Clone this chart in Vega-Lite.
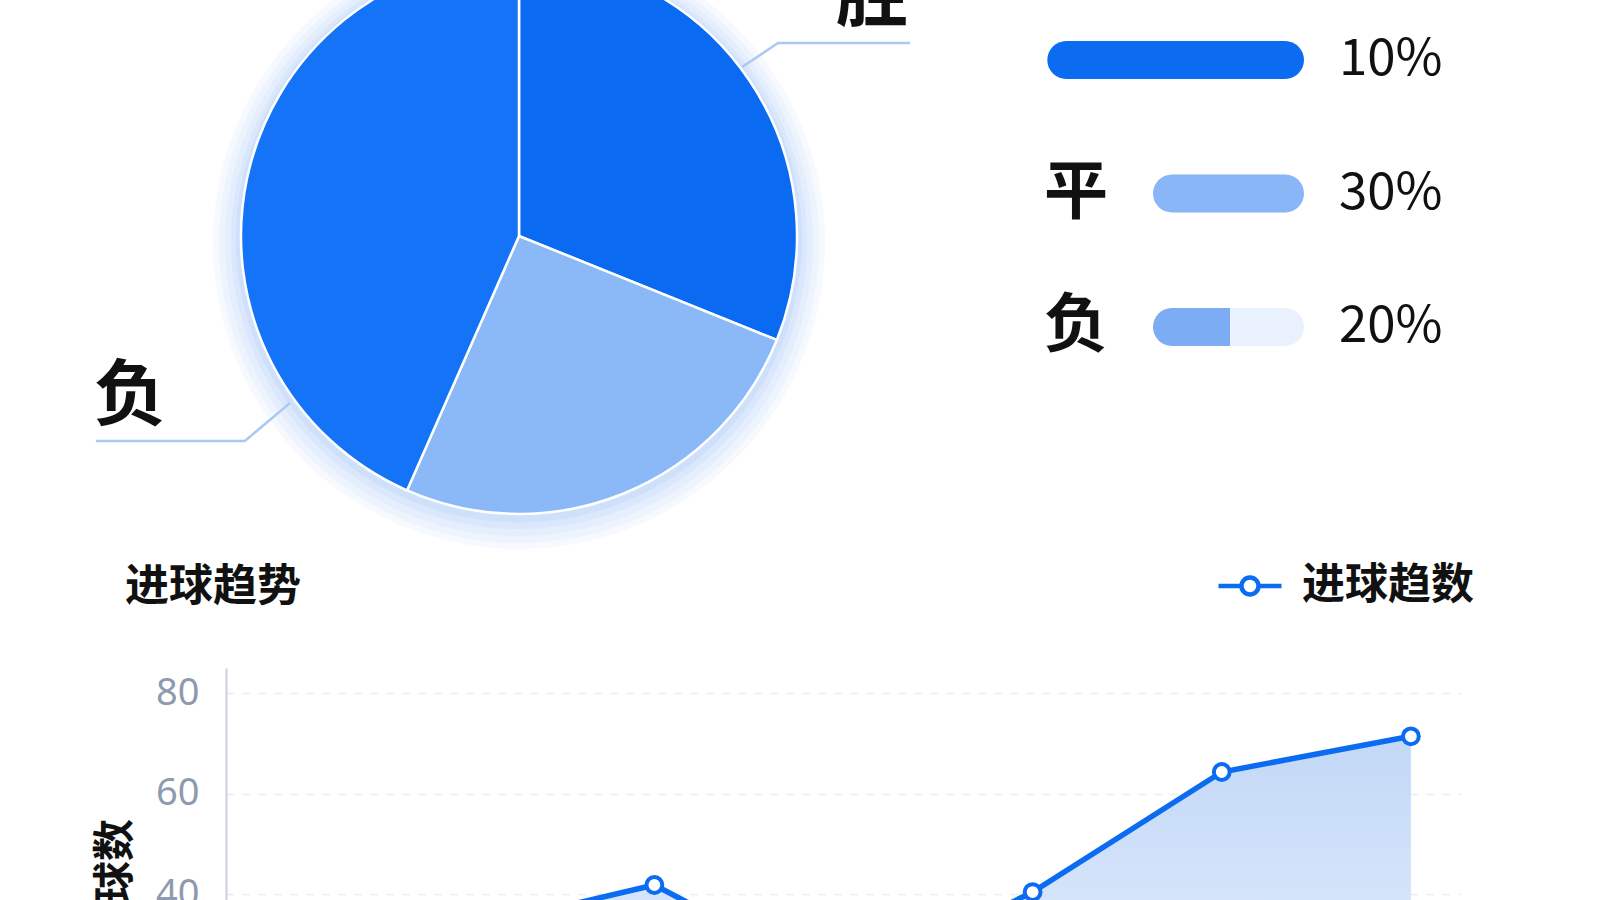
{
  "$schema": "https://vega.github.io/schema/vega-lite/v6.json",
  "background": "white",
  "padding": {"left": 0, "top": -64, "right": -87, "bottom": -194},
  "config": {
    "view": {"stroke": null},
    "font": "Noto Sans CJK SC"
  },
  "datasets": {
    "pie": [
      {"result": "胜", "share": 31.1, "idx": 1},
      {"result": "平", "share": 25.5, "idx": 2},
      {"result": "负", "share": 43.4, "idx": 3}
    ],
    "labels": [
      {"text": "胜", "x": 1.27, "y": 0.856},
      {"text": "负", "x": -1.399, "y": -0.58}
    ],
    "leaders": [
      {"label": "胜", "seq": 1, "x": 0.802, "y": 0.608},
      {"label": "胜", "seq": 2, "x": 0.932, "y": 0.694},
      {"label": "胜", "seq": 3, "x": 1.406, "y": 0.694},
      {"label": "负", "seq": 1, "x": -0.824, "y": -0.601},
      {"label": "负", "seq": 2, "x": -0.986, "y": -0.737},
      {"label": "负", "seq": 3, "x": -1.522, "y": -0.737}
    ],
    "bars": [
      {"result": "胜", "start": -70, "end": 100, "pct": "10%"},
      {"result": "平", "start": 0, "end": 100, "pct": "30%"},
      {"result": "负", "start": 0, "end": 51, "pct": "20%"}
    ],
    "goals": [
      {"round": "第1轮", "goals": 28},
      {"round": "第2轮", "goals": 33},
      {"round": "第3轮", "goals": 41.8},
      {"round": "第4轮", "goals": 22},
      {"round": "第5轮", "goals": 40.4},
      {"round": "第6轮", "goals": 64.3},
      {"round": "第7轮", "goals": 71.4}
    ]
  },
  "bounds": "flush",
  "center": true,
  "spacing": 132,
  "resolve": {"scale": {"color": "independent"}},
  "vconcat": [
    {
      "width": 1687,
      "height": 600,
      "resolve": {"scale": {"x": "independent", "y": "independent", "color": "independent"}},
      "layer": [
        {
          "data": {"name": "pie"},
          "mark": {"type": "arc", "outerRadius": 306, "color": "#f6f9fe"},
          "encoding": {
            "x": {"datum": 0, "type": "quantitative", "scale": {"domain": [-1.8669, 4.2014], "nice": false, "zero": false}, "axis": null},
            "y": {"datum": -0.025, "type": "quantitative", "scale": {"domain": [-1.0791, 1.0791], "nice": false, "zero": false}, "axis": null},
            "theta": {"field": "share", "type": "quantitative", "stack": true}
          }
        },
        {
          "data": {"name": "pie"},
          "mark": {"type": "arc", "outerRadius": 300, "color": "#eef4fe"},
          "encoding": {
            "x": {"datum": 0, "type": "quantitative", "scale": {"domain": [-1.8669, 4.2014], "nice": false, "zero": false}, "axis": null},
            "y": {"datum": -0.025, "type": "quantitative", "scale": {"domain": [-1.0791, 1.0791], "nice": false, "zero": false}, "axis": null},
            "theta": {"field": "share", "type": "quantitative", "stack": true}
          }
        },
        {
          "data": {"name": "pie"},
          "mark": {"type": "arc", "outerRadius": 294, "color": "#e5eefd"},
          "encoding": {
            "x": {"datum": 0, "type": "quantitative", "scale": {"domain": [-1.8669, 4.2014], "nice": false, "zero": false}, "axis": null},
            "y": {"datum": -0.022, "type": "quantitative", "scale": {"domain": [-1.0791, 1.0791], "nice": false, "zero": false}, "axis": null},
            "theta": {"field": "share", "type": "quantitative", "stack": true}
          }
        },
        {
          "data": {"name": "pie"},
          "mark": {"type": "arc", "outerRadius": 288, "color": "#dae7fc"},
          "encoding": {
            "x": {"datum": 0, "type": "quantitative", "scale": {"domain": [-1.8669, 4.2014], "nice": false, "zero": false}, "axis": null},
            "y": {"datum": -0.018, "type": "quantitative", "scale": {"domain": [-1.0791, 1.0791], "nice": false, "zero": false}, "axis": null},
            "theta": {"field": "share", "type": "quantitative", "stack": true}
          }
        },
        {
          "data": {"name": "pie"},
          "mark": {"type": "arc", "outerRadius": 283, "color": "#cfe0fb"},
          "encoding": {
            "x": {"datum": 0, "type": "quantitative", "scale": {"domain": [-1.8669, 4.2014], "nice": false, "zero": false}, "axis": null},
            "y": {"datum": -0.012, "type": "quantitative", "scale": {"domain": [-1.0791, 1.0791], "nice": false, "zero": false}, "axis": null},
            "theta": {"field": "share", "type": "quantitative", "stack": true}
          }
        },
        {
          "data": {"name": "pie"},
          "mark": {"type": "arc", "outerRadius": 278, "stroke": "white", "strokeWidth": 2.5},
          "encoding": {
            "x": {"datum": 0, "type": "quantitative", "scale": {"domain": [-1.8669, 4.2014], "nice": false, "zero": false}, "axis": null},
            "y": {"datum": 0, "type": "quantitative", "scale": {"domain": [-1.0791, 1.0791], "nice": false, "zero": false}, "axis": null},
            "theta": {"field": "share", "type": "quantitative", "stack": true},
            "order": {"field": "idx"},
            "color": {
              "field": "result", "type": "nominal",
              "scale": {"domain": ["胜", "平", "负"], "range": ["#0a6af2", "#8bb8f7", "#1473f6"]},
              "legend": null
            }
          }
        },
        {
          "data": {"name": "leaders"},
          "mark": {"type": "line", "stroke": "#a9c9f2", "strokeWidth": 2.5},
          "encoding": {
            "x": {"field": "x", "type": "quantitative", "scale": {"domain": [-1.8669, 4.2014], "nice": false, "zero": false}, "axis": null},
            "y": {"field": "y", "type": "quantitative", "scale": {"domain": [-1.0791, 1.0791], "nice": false, "zero": false}, "axis": null},
            "detail": {"field": "label"},
            "order": {"field": "seq"}
          }
        },
        {
          "data": {"name": "labels"},
          "mark": {"type": "text", "fontSize": 72, "fontWeight": "bold", "color": "#111111", "align": "center", "baseline": "middle"},
          "encoding": {
            "x": {"field": "x", "type": "quantitative", "scale": {"domain": [-1.8669, 4.2014], "nice": false, "zero": false}, "axis": null},
            "y": {"field": "y", "type": "quantitative", "scale": {"domain": [-1.0791, 1.0791], "nice": false, "zero": false}, "axis": null},
            "text": {"field": "text"}
          }
        },
        {
          "data": {"name": "bars"},
          "transform": [{"filter": "datum.start >= 0"}],
          "mark": {"type": "bar", "height": 38, "cornerRadius": 19, "color": "#e9f1fd"},
          "encoding": {
            "y": {"field": "result", "type": "nominal", "scale": {"type": "band", "domain": ["胜", "平", "负"], "paddingInner": 0, "paddingOuter": 0.747, "align": 0.287}, "axis": null},
            "x": {"datum": 0, "type": "quantitative", "scale": {"domain": [-763.58, 353.64], "nice": false, "zero": false}, "axis": null},
            "x2": {"datum": 100}
          }
        },
        {
          "data": {"name": "bars"},
          "transform": [{"filter": "datum.end >= 100"}],
          "mark": {"type": "bar", "height": 38, "cornerRadius": 19},
          "encoding": {
            "y": {"field": "result", "type": "nominal", "scale": {"type": "band", "domain": ["胜", "平", "负"], "paddingInner": 0, "paddingOuter": 0.747, "align": 0.287}, "axis": null},
            "x": {"field": "start", "type": "quantitative", "scale": {"domain": [-763.58, 353.64], "nice": false, "zero": false}, "axis": null},
            "x2": {"field": "end"},
            "color": {
              "field": "result", "type": "nominal",
              "scale": {"domain": ["胜", "平", "负"], "range": ["#0b6cf2", "#88b6f7", "#7cadf4"]},
              "legend": null
            }
          }
        },
        {
          "data": {"name": "bars"},
          "transform": [{"filter": "datum.end < 100"}],
          "mark": {"type": "bar", "height": 38, "cornerRadiusTopLeft": 19, "cornerRadiusBottomLeft": 19},
          "encoding": {
            "y": {"field": "result", "type": "nominal", "scale": {"type": "band", "domain": ["胜", "平", "负"], "paddingInner": 0, "paddingOuter": 0.747, "align": 0.287}, "axis": null},
            "x": {"field": "start", "type": "quantitative", "scale": {"domain": [-763.58, 353.64], "nice": false, "zero": false}, "axis": null},
            "x2": {"field": "end"},
            "color": {
              "field": "result", "type": "nominal",
              "scale": {"domain": ["胜", "平", "负"], "range": ["#0b6cf2", "#88b6f7", "#7cadf4"]},
              "legend": null
            }
          }
        },
        {
          "data": {"name": "bars"},
          "transform": [{"filter": "datum.start >= 0"}],
          "mark": {"type": "text", "fontSize": 64, "fontWeight": "bold", "dx": -77, "align": "center", "baseline": "middle", "color": "#111111"},
          "encoding": {
            "y": {"field": "result", "type": "nominal", "scale": {"type": "band", "domain": ["胜", "平", "负"], "paddingInner": 0, "paddingOuter": 0.747, "align": 0.287}, "axis": null},
            "x": {"datum": 0, "type": "quantitative", "scale": {"domain": [-763.58, 353.64], "nice": false, "zero": false}, "axis": null},
            "text": {"field": "result"}
          }
        },
        {
          "data": {"name": "bars"},
          "mark": {"type": "text", "fontSize": 51, "dx": 35, "align": "left", "baseline": "middle", "color": "#111111"},
          "encoding": {
            "y": {"field": "result", "type": "nominal", "scale": {"type": "band", "domain": ["胜", "平", "负"], "paddingInner": 0, "paddingOuter": 0.747, "align": 0.287}, "axis": null},
            "x": {"datum": 100, "type": "quantitative", "scale": {"domain": [-763.58, 353.64], "nice": false, "zero": false}, "axis": null},
            "text": {"field": "pct"}
          }
        }
      ]
    },
    {
      "width": 1235,
      "height": 427,
      "data": {"name": "goals"},
      "title": {
        "text": "进球趋势", "anchor": "start", "frame": "group", "dx": -101, "dy": 162, "offset": 60,
        "fontSize": 44, "fontWeight": "bold", "color": "#111111", "font": "Noto Sans CJK SC", "baseline": "bottom"
      },
      "encoding": {
        "x": {"field": "round", "type": "ordinal", "sort": null, "scale": {"type": "point", "padding": 0.265}, "axis": null},
        "y": {
          "field": "goals", "type": "quantitative",
          "scale": {"domain": [0, 85], "nice": false},
          "axis": {
            "values": [0, 20, 40, 60, 80], "title": "进球数",
            "titleFontSize": 42, "titleFontWeight": "bold", "titleColor": "#111111", "titleFont": "Noto Sans CJK SC", "titlePadding": 18,
            "labelFontSize": 38, "labelColor": "#8e9aad", "labelFont": "Noto Sans", "labelPadding": 27,
            "ticks": false, "domainColor": "#c9d1dd", "domainWidth": 2,
            "gridColor": "#e9edf3", "gridDash": [8, 8], "gridWidth": 1.5
          }
        }
      },
      "layer": [
        {
          "mark": {
            "type": "area",
            "color": {
              "gradient": "linear", "x1": 0, "y1": 0, "x2": 0, "y2": 1,
              "stops": [{"offset": 0, "color": "#c2d8f7"}, {"offset": 1, "color": "#eaf2fd"}]
            }
          }
        },
        {
          "mark": {"type": "line", "strokeWidth": 5.5},
          "encoding": {
            "color": {
              "datum": "进球趋数", "type": "nominal",
              "scale": {"range": ["#0b6cf2"]},
              "legend": {
                "orient": "none", "legendX": 990, "legendY": -116, "title": null,
                "labelFontSize": 43, "labelFont": "Noto Sans CJK SC", "labelFontWeight": "bold", "labelColor": "#111111", "labelLimit": 0,
                "symbolType": "M-1,0H-0.27M0.27,0H1M-0.27,0A0.27,0.27,0,1,0,0.27,0A0.27,0.27,0,1,0,-0.27,0",
                "symbolSize": 3969, "symbolStrokeWidth": 4.5, "symbolFillColor": "white", "symbolStrokeColor": "#0b6cf2",
                "labelOffset": 18
              }
            }
          }
        },
        {
          "mark": {"type": "point", "filled": true, "fill": "white", "stroke": "#0b6cf2", "strokeWidth": 4, "size": 250, "opacity": 1}
        }
      ]
    }
  ]
}
